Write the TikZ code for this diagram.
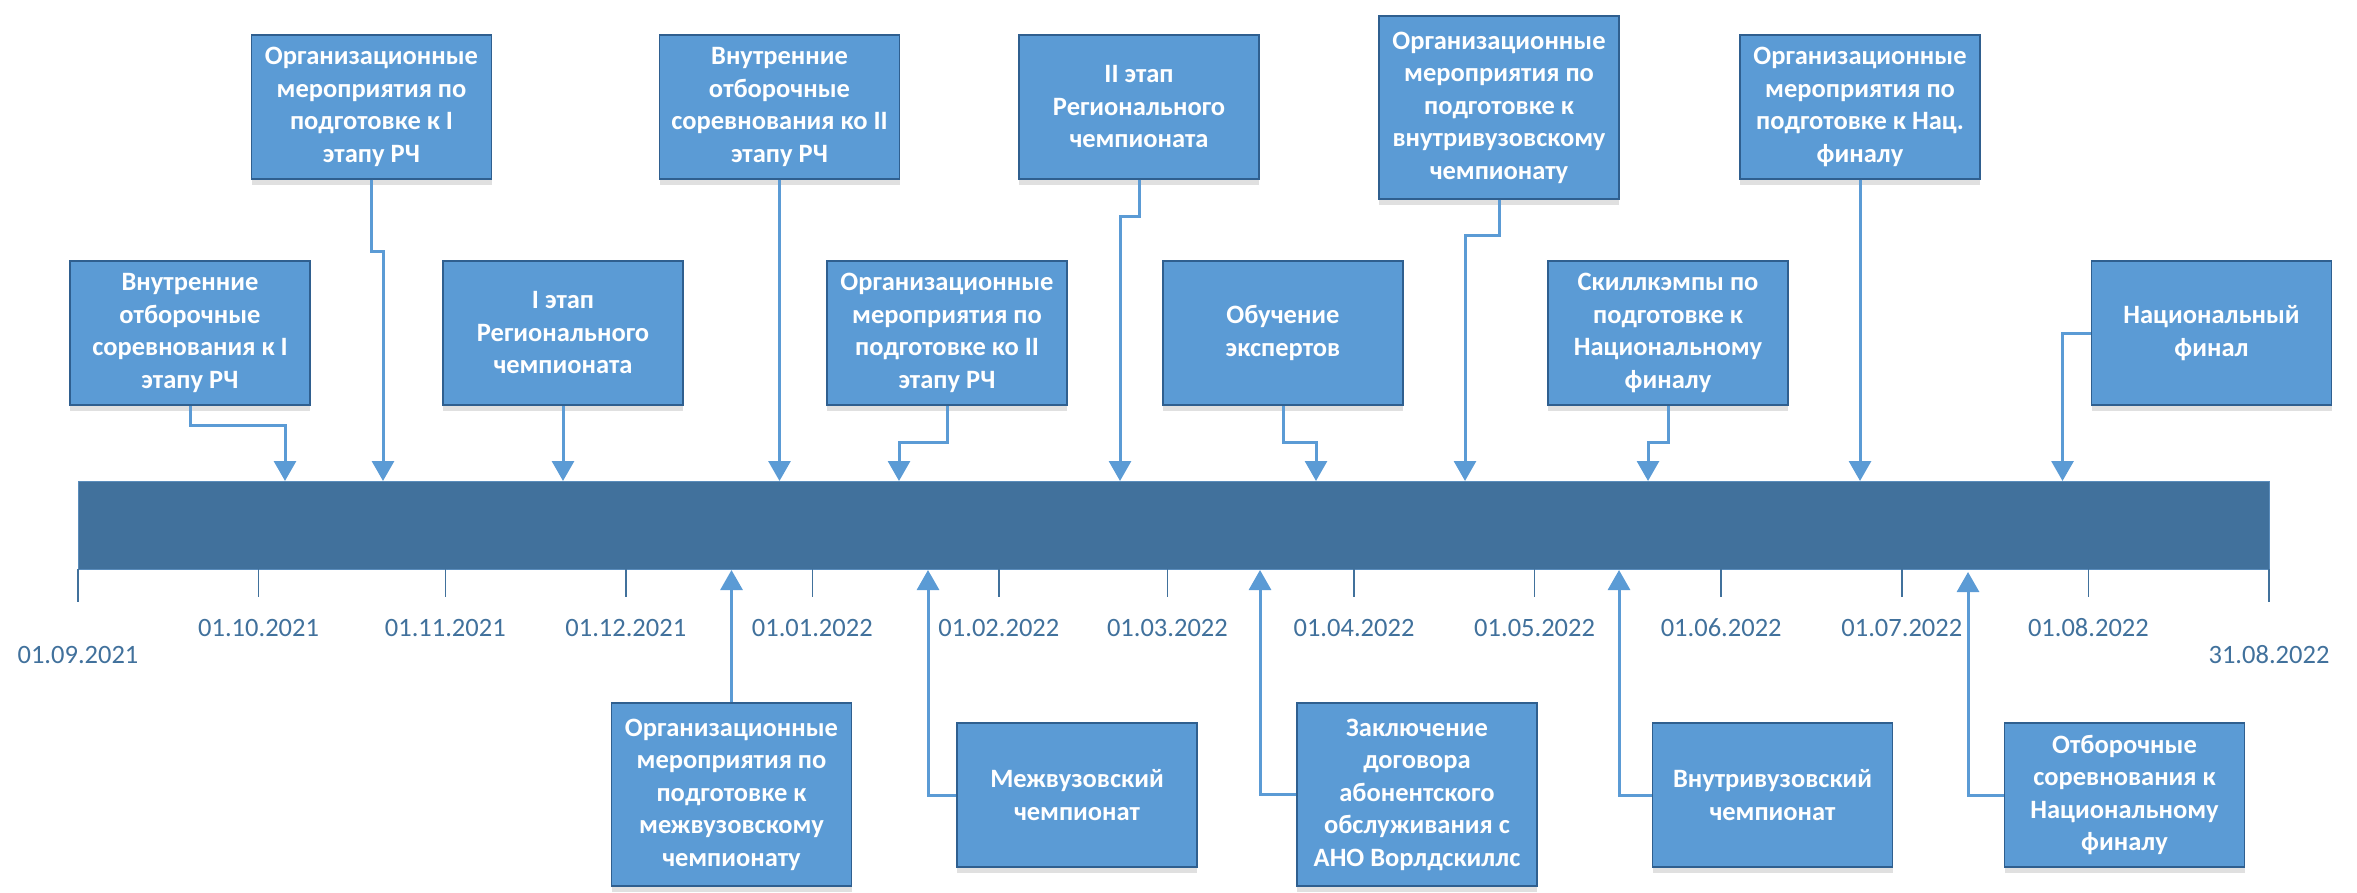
\documentclass[tikz,border=0pt]{standalone}
\usepackage{fontspec}
\setmainfont{Carlito}
\usetikzlibrary{arrows.meta,shadows}
\definecolor{evfill}{HTML}{5B9BD5}
\definecolor{evdraw}{HTML}{2F5F8F}
\definecolor{bardark}{HTML}{41719C}
\definecolor{barline}{HTML}{5A8CBB}
\begin{document}
\begin{tikzpicture}[x=1pt,y=-1pt,
  ev/.style={draw=evdraw,line width=1.5pt,fill=evfill,text=white,
    font=\fontsize{26.5}{32.5}\selectfont\bfseries,align=center,
    minimum width=240pt,minimum height=144pt,inner sep=0pt,
    drop shadow={shadow xshift=0pt,shadow yshift=-6pt,opacity=.12,fill=black}},
  evtall/.style={ev,minimum height=183pt},
  conn/.style={draw=evfill,line width=3pt,-{Triangle[width=22pt,length=20pt]}},
  monthtick/.style={draw=bardark,line width=1.5pt},
  datelbl/.style={text=bardark,font=\fontsize{26.5}{32}\selectfont},
  timebar/.style={fill=bardark,draw=barline,line width=1pt,
    minimum width=2191pt,minimum height=88pt,inner sep=0pt}]
  \useasboundingbox (0,0) rectangle (2357,893);

  \node[timebar] (bar) at (1173.5,525) {};

  \foreach \x/\d in {258.6/01.10.2021,445.3/01.11.2021,625.8/01.12.2021,
      812.3/01.01.2022,998.9/01.02.2022,1167.4/01.03.2022,1354/01.04.2022,
      1534.6/01.05.2022,1721.2/01.06.2022,1901.8/01.07.2022,2088.4/01.08.2022}{
    \draw[monthtick] (\x,569) -- (\x,597);
    \node[datelbl] at (\x,628) {\d};
  }
  \foreach \x/\d in {78/01.09.2021,2269/31.08.2022}{
    \draw[monthtick] (\x,569) -- (\x,602);
    \node[datelbl] at (\x,655) {\d};
  }

  \node[ev] (orgI) at (371.5,107) {Организационные\\мероприятия по\\подготовке к I\\этапу РЧ};
  \node[ev] (vnutrI) at (190,333) {Внутренние\\отборочные\\соревнования к I\\этапу РЧ};
  \node[ev] (etapI) at (563,333) {I этап\\Регионального\\чемпионата};
  \node[ev] (vnutrII) at (779.5,107) {Внутренние\\отборочные\\соревнования ко II\\этапу РЧ};
  \node[ev] (orgII) at (947,333) {Организационные\\мероприятия по\\подготовке ко II\\этапу РЧ};
  \node[ev] (etapII) at (1139,107) {II этап\\Регионального\\чемпионата};
  \node[ev] (obuch) at (1283,333) {Обучение\\экспертов};
  \node[evtall] (orgvv) at (1499,107.5) {Организационные\\мероприятия по\\подготовке к\\внутривузовскому\\чемпионату};
  \node[ev] (skill) at (1668,333) {Скиллкэмпы по\\подготовке к\\Национальному\\финалу};
  \node[ev] (orgnat) at (1860,107) {Организационные\\мероприятия по\\подготовке к Нац.\\финалу};
  \node[ev] (final) at (2211.5,333) {Национальный\\финал};

  \node[evtall] (orgmv) at (731.5,794.5) {Организационные\\мероприятия по\\подготовке к\\межвузовскому\\чемпионату};
  \node[ev] (mezhvuz) at (1077,795) {Межвузовский\\чемпионат};
  \node[evtall] (dogovor) at (1417,794.5) {Заключение\\договора\\абонентского\\обслуживания с\\АНО Ворлдскиллс};
  \node[ev] (vnutrivuz) at (1772.5,795) {Внутривузовский\\чемпионат};
  \node[ev] (otbor) at (2124.5,795) {Отборочные\\соревнования к\\Национальному\\финалу};

  \coordinate (pvnutrI) at (285,481);
  \coordinate (porgI) at (383,481);
  \coordinate (petapI) at (563,481);
  \coordinate (pvnutrII) at (779.5,481);
  \coordinate (porgII) at (899,481);
  \coordinate (petapII) at (1120,481);
  \coordinate (pobuch) at (1316,481);
  \coordinate (porgvv) at (1465,481);
  \coordinate (pskill) at (1648,481);
  \coordinate (porgnat) at (1860,481);
  \coordinate (pfinal) at (2062.5,481);
  \coordinate (porgmv) at (731.5,570);
  \coordinate (pmezhvuz) at (928,570);
  \coordinate (pdogovor) at (1260,570);
  \coordinate (pvnutrivuz) at (1619,570);
  \coordinate (potbor) at (1968,572);

  \draw[conn] (vnutrI.south) -- ++(0,20) -| (pvnutrI);
  \draw[conn] (orgI.south) -- ++(0,72) -| (porgI);
  \draw[conn] (etapI.south) -- (petapI);
  \draw[conn] (vnutrII.south) -- (pvnutrII);
  \draw[conn] (orgII.south) -- ++(0,37) -| (porgII);
  \draw[conn] (etapII.south) -- ++(0,37) -| (petapII);
  \draw[conn] (obuch.south) -- ++(0,37) -| (pobuch);
  \draw[conn] (orgvv.south) -- ++(0,36) -| (porgvv);
  \draw[conn] (skill.south) -- ++(0,37) -| (pskill);
  \draw[conn] (orgnat.south) -- (porgnat);
  \draw[conn] (final.west) -| (pfinal);
  \draw[conn] (orgmv.north) -- (porgmv);
  \draw[conn] (mezhvuz.west) -| (pmezhvuz);
  \draw[conn] (dogovor.west) -| (pdogovor);
  \draw[conn] (vnutrivuz.west) -| (pvnutrivuz);
  \draw[conn] (otbor.west) -| (potbor);
\end{tikzpicture}
\end{document}
